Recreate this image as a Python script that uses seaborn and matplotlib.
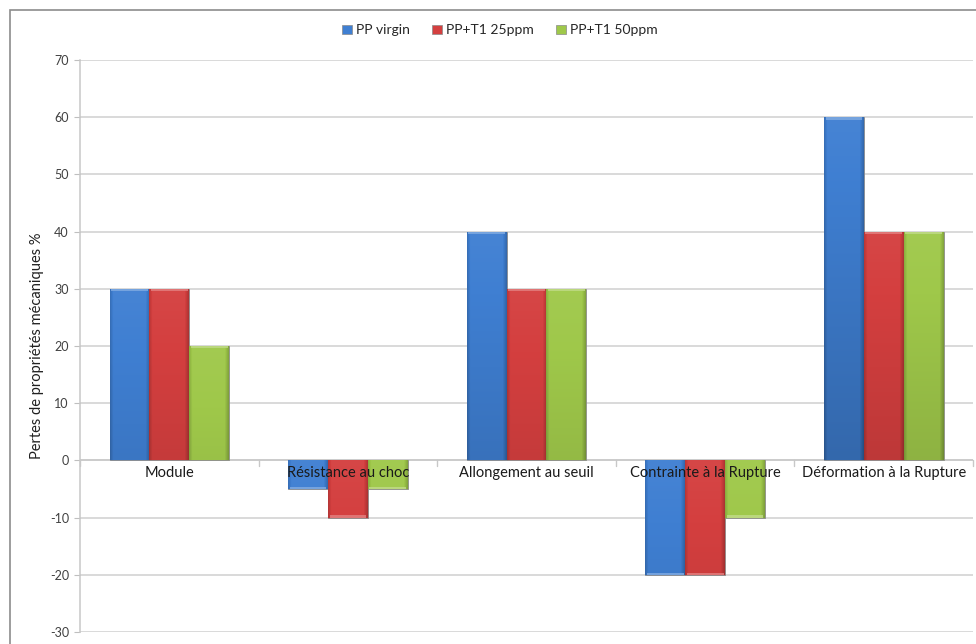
import numpy as np
import pandas as pd
import matplotlib
matplotlib.use("Agg")
import matplotlib.pyplot as plt
import seaborn as sns
from matplotlib.patches import Patch, Rectangle
from matplotlib.colors import to_rgb

# data
categories = ["Module", "Résistance au choc", "Allongement au seuil",
              "Contrainte à la Rupture", "Déformation à la Rupture"]
series = ["PP virgin", "PP+T1 25ppm", "PP+T1 50ppm"]
pp_virgin = [30, -5, 40, -20, 60]
pp_t1_25 = [30, -10, 30, -20, 40]
pp_t1_50 = [20, -5, 30, -10, 40]
yticks = list(range(-30, 71, 10))
ylabel = "Pertes de propriétés mécaniques %"

colors = ["#3f7fd2", "#d43f3f", "#9fc84a"]

df = pd.DataFrame({
    "cat": categories * 3,
    "serie": [s for s in series for _ in categories],
    "val": pp_virgin + pp_t1_25 + pp_t1_50,
})

sns.set_style("white")
plt.rcParams["font.family"] = ["Lato", "DejaVu Sans"]

fig = plt.figure(figsize=(9.76, 6.44), dpi=100)
ax = fig.add_axes([0.082, 0.0186, 0.915, 0.8882])

sns.barplot(data=df, x="cat", y="val", hue="serie", order=categories,
            hue_order=series, palette=colors, width=0.67, gap=0,
            saturation=1, edgecolor="#8a8a8a", linewidth=0.6,
            legend=False, ax=ax, zorder=3)


def shade(c, f):
    c = np.array(to_rgb(c))
    if f >= 0:
        return c + (1 - c) * f
    return c * (1 + f)


# excel-like gradient on each bar: darker towards the bottom and the sides
nx, ny = 40, 60
tx = np.linspace(0, 1, nx)
side = -0.15 * (np.clip(0.08 - tx, 0, None) / 0.08) - 0.2 * (np.clip(tx - 0.9, 0, None) / 0.1)
for i, p in enumerate(ax.patches):
    h = p.get_height()
    if h == 0:
        continue
    base = p.get_facecolor()[:3]
    x0 = p.get_x()
    w = p.get_width()
    y0 = min(p.get_y(), p.get_y() + h)
    y1 = max(p.get_y(), p.get_y() + h)
    ty = np.linspace(0, 1, ny)
    vert = 0.04 - 0.22 * ty * abs(h) / 60
    img = np.zeros((ny, nx, 3))
    for r in range(ny):
        for c in range(nx):
            img[r, c] = shade(base, vert[r] + side[c])
    im = ax.imshow(np.clip(img, 0, 1), extent=[x0, x0 + w, y0, y1],
                   origin="upper", aspect="auto", zorder=3.1,
                   interpolation="bilinear")
    im.set_clip_path(p)
    # light bevel at the top edge
    top = y1 if h > 0 else y0
    ax.add_patch(Rectangle((x0 + w * 0.04, top - 0.4 if h > 0 else top),
                           w * 0.92, 0.4, facecolor=shade(base, 0.35),
                           edgecolor="none", zorder=3.2, alpha=0.8))

ax.set_xlim(-0.5, len(categories) - 0.5)
ax.set_ylim(-30, 70)
ax.set_yticks(yticks)
ax.set_yticklabels([str(v) for v in yticks], fontsize=9, color="#404040")
ax.set_xticks([])
ax.set_xlabel("")
ax.set_ylabel(ylabel, fontsize=10.5, color="#202020", labelpad=4)
ax.tick_params(axis="y", length=4, width=0.8, color="#bfbfbf", pad=4, left=True)

ax.yaxis.grid(True, color="#d0d0d0", linewidth=1.1, zorder=0)
ax.set_axisbelow(True)
for s in ["top", "right", "bottom"]:
    ax.spines[s].set_visible(False)
ax.spines["left"].set_color("#c8c8c8")
ax.spines["left"].set_linewidth(1.1)

# zero axis with category ticks and labels
ax.axhline(0, color="#c8c8c8", linewidth=1.1, zorder=2)
for k in range(len(categories) + 1):
    ax.plot([k - 0.5, k - 0.5], [0, -0.9], color="#c8c8c8", linewidth=1.0,
            zorder=2, clip_on=False)
for k, c in enumerate(categories):
    ax.text(k, -1.0, c, ha="center", va="top", fontsize=10.5,
            color="#1a1a1a", zorder=6)

handles = [Patch(facecolor=c, edgecolor="#8a8a8a", linewidth=0.5) for c in colors]
fig.legend(handles, series, loc="center", bbox_to_anchor=(0.512, 0.953),
           ncol=3, frameon=False, fontsize=10, handlelength=0.7,
           handleheight=0.7, handletextpad=0.3, columnspacing=1.6)

# chart border
fig.add_artist(Rectangle((10 / 976, -0.05), 1.2, 1 - 10 / 644 + 0.05,
                         transform=fig.transFigure, fill=False,
                         edgecolor="#8c8c8c", linewidth=1.2))

fig.savefig("out.png", dpi=100)
